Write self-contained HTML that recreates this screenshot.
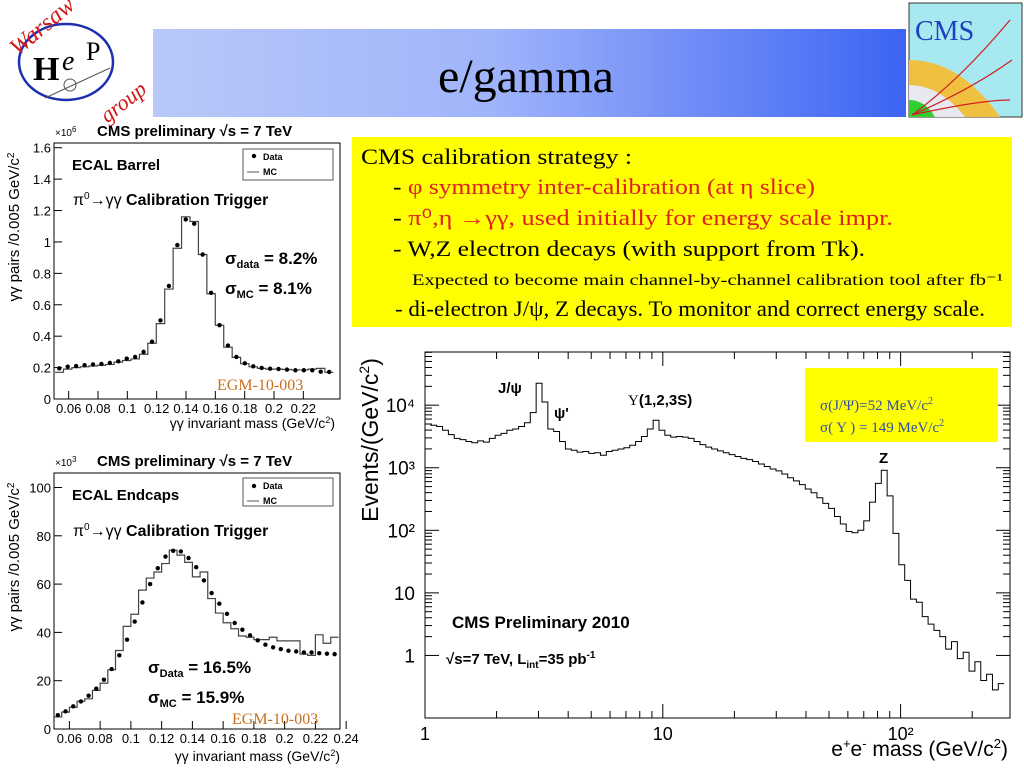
<!DOCTYPE html>
<html><head><meta charset="utf-8"><style>
html,body{margin:0;padding:0;background:#fff;}
svg{display:block;font-family:"Liberation Sans",sans-serif;}
</style></head><body>
<svg id="slide" width="1024" height="768" viewBox="0 0 1024 768">
<defs>
<linearGradient id="tg" x1="0" x2="1" y1="0" y2="0"><stop offset="0" stop-color="#b8c8f8"/><stop offset="0.45" stop-color="#a0b4fa"/><stop offset="1" stop-color="#3c64f4"/></linearGradient>
</defs>
<g>
<ellipse cx="66" cy="62" rx="47" ry="38" fill="none" stroke="#1c2fb0" stroke-width="2.5"/>
<text x="8" y="50" transform="rotate(-40 22 40)" font-family="Liberation Serif, serif" font-size="24" font-style="italic" fill="#d01818">Warsaw</text>
<text x="33" y="80" font-family="Liberation Serif, serif" font-size="34" font-weight="bold" fill="#000">H</text>
<text x="62" y="70" font-family="Liberation Serif, serif" font-size="28" font-style="italic" fill="#000">e</text>
<text x="86" y="60" font-family="Liberation Serif, serif" font-size="26" fill="#000">P</text>
<text x="95" y="112" transform="rotate(-38 118 100)" font-family="Liberation Serif, serif" font-size="22" font-style="italic" fill="#d01818">group</text>
<line x1="45" y1="98" x2="110" y2="68" stroke="#555" stroke-width="1"/>
<circle cx="70" cy="85" r="6" fill="none" stroke="#555"/>
</g>
<rect x="153" y="29" width="753" height="88" fill="url(#tg)"/>
<text x="526" y="92" text-anchor="middle" font-family="Liberation Serif, serif" font-size="48" fill="#000">e/gamma</text>
<g>
<rect x="909" y="3" width="113" height="114" fill="#a8e8f0" stroke="#333"/>
<path d="M909 60 Q960 60 1000 117 L909 117Z" fill="#f0c040"/>
<path d="M909 85 Q940 85 965 117 L909 117Z" fill="#e8e8f0"/>
<path d="M909 100 Q925 100 935 117 L909 117Z" fill="#30d030"/>
<path d="M912 115 Q960 80 1010 20 M912 115 Q970 90 1012 60 M912 115 Q980 100 1010 100" stroke="#d02020" fill="none" stroke-width="1.2"/>
<text x="915" y="40" font-family="Liberation Serif, serif" font-size="28" fill="#2040c0">CMS</text>
</g>

<rect x="352" y="137" width="660" height="190" fill="#ffff00"/>
<g font-family="Liberation Serif, serif">
<text x="361" y="164" font-size="22" fill="#000" textLength="271" lengthAdjust="spacingAndGlyphs">CMS calibration strategy :</text>
<text x="393" y="194" font-size="22" fill="#000" textLength="422" lengthAdjust="spacingAndGlyphs">- <tspan fill="#e02020">φ symmetry inter-calibration (at η slice)</tspan></text>
<text x="393" y="225" font-size="22" fill="#e02020" textLength="500" lengthAdjust="spacingAndGlyphs"><tspan fill="#000">- </tspan>π⁰,η →γγ, used initially for energy scale impr.</text>
<text x="393" y="256" font-size="22" fill="#000" textLength="472" lengthAdjust="spacingAndGlyphs">- W,Z electron decays (with support from Tk).</text>
<text x="412" y="285" font-size="16" fill="#000" textLength="591" lengthAdjust="spacingAndGlyphs">Expected to become main channel-by-channel  calibration tool after fb⁻¹</text>
<text x="395" y="316" font-size="22" fill="#000" textLength="590" lengthAdjust="spacingAndGlyphs">- di-electron  J/ψ, Z decays. To monitor and correct energy scale.</text>
</g>

<g id="c1"></g>
<g id="c2"></g>
<g id="c3"></g>

<g>
<text x="55" y="136" font-size="10">×10<tspan font-size="8" dy="-4">6</tspan></text>
<text x="97" y="136" font-size="15" font-weight="bold">CMS preliminary √s = 7 TeV</text>
<text x="72" y="170" font-size="15" font-weight="bold">ECAL Barrel</text>
<rect x="243" y="149" width="90" height="31" fill="#fff" stroke="#555"/>
<circle cx="254" cy="156" r="2.2"/><text x="263" y="160" font-size="9" font-weight="bold">Data</text>
<line x1="247" y1="172" x2="259" y2="172" stroke="#555"/><text x="263" y="175" font-size="9" font-weight="bold">MC</text>
<text x="73" y="205" font-size="16" font-weight="bold"><tspan font-weight="normal">π<tspan font-size="10" dy="-6">0</tspan><tspan dy="6">→γγ</tspan></tspan> Calibration Trigger</text>
<text x="225" y="264" font-size="17" font-weight="bold">σ<tspan font-size="11" dy="4">data</tspan><tspan dy="-4"> = 8.2%</tspan></text>
<text x="225" y="294" font-size="17" font-weight="bold">σ<tspan font-size="11" dy="4">MC</tspan><tspan dy="-4"> = 8.1%</tspan></text>
<text x="217" y="390" font-size="16" fill="#c8701e" font-family="Liberation Serif, serif">EGM-10-003</text>
<text x="335" y="428" font-size="14" text-anchor="end">γγ invariant mass (GeV/c<tspan font-size="9" dy="-5">2</tspan><tspan dy="5">)</tspan></text>
<text transform="translate(19 227) rotate(-90)" font-size="15" text-anchor="middle">γγ pairs /0.005 GeV/c<tspan font-size="10" dy="-5">2</tspan></text>
</g>
<g>
<text x="55" y="466" font-size="10">×10<tspan font-size="8" dy="-4">3</tspan></text>
<text x="97" y="466" font-size="15" font-weight="bold">CMS preliminary √s = 7 TeV</text>
<text x="72" y="500" font-size="15" font-weight="bold">ECAL Endcaps</text>
<rect x="243" y="478" width="90" height="28" fill="#fff" stroke="#555"/>
<circle cx="254" cy="486" r="2.2"/><text x="263" y="489" font-size="9" font-weight="bold">Data</text>
<line x1="247" y1="501" x2="259" y2="501" stroke="#555"/><text x="263" y="504" font-size="9" font-weight="bold">MC</text>
<text x="73" y="536" font-size="16" font-weight="bold"><tspan font-weight="normal">π<tspan font-size="10" dy="-6">0</tspan><tspan dy="6">→γγ</tspan></tspan> Calibration Trigger</text>
<text x="148" y="673" font-size="17" font-weight="bold">σ<tspan font-size="11" dy="4">Data</tspan><tspan dy="-4"> = 16.5%</tspan></text>
<text x="148" y="703" font-size="17" font-weight="bold">σ<tspan font-size="11" dy="4">MC</tspan><tspan dy="-4"> = 15.9%</tspan></text>
<text x="232" y="724" font-size="16" fill="#c8701e" font-family="Liberation Serif, serif">EGM-10-003</text>
<text x="340" y="761" font-size="14" text-anchor="end">γγ invariant mass (GeV/c<tspan font-size="9" dy="-5">2</tspan><tspan dy="5">)</tspan></text>
<text transform="translate(19 557) rotate(-90)" font-size="15" text-anchor="middle">γγ pairs /0.005 GeV/c<tspan font-size="10" dy="-5">2</tspan></text>
</g>
<g>
<text transform="translate(378 440) rotate(-90)" font-size="23" text-anchor="middle">Events/(GeV/c<tspan font-size="14" dy="-9">2</tspan><tspan dy="9">)</tspan></text>
<text x="1008" y="756" font-size="21" text-anchor="end">e<tspan font-size="13" dy="-8">+</tspan><tspan dy="8">e</tspan><tspan font-size="13" dy="-8">-</tspan><tspan dy="8"> mass (GeV/c</tspan><tspan font-size="13" dy="-8">2</tspan><tspan dy="8">)</tspan></text>
<text x="498" y="393" font-size="15" font-weight="bold">J/ψ</text>
<text x="554" y="418" font-size="15" font-weight="bold">ψ'</text>
<text x="628" y="405" font-size="15" font-weight="bold"><tspan font-weight="normal" font-family="Liberation Serif, serif">Υ</tspan>(1,2,3S)</text>
<text x="879" y="463" font-size="15" font-weight="bold">Z</text>
<text x="452" y="628" font-size="17" font-weight="bold">CMS Preliminary 2010</text>
<text x="446" y="664" font-size="15" font-weight="bold">√s=7 TeV, L<tspan font-size="10" dy="4">int</tspan><tspan dy="-4">=35 pb</tspan><tspan font-size="10" dy="-6">-1</tspan></text>
<rect x="805" y="368" width="193" height="74" fill="#ffff00"/>
<text x="820" y="410" font-size="15" fill="#3050a0" font-family="Liberation Serif, serif">σ(J/Ψ)=52 MeV/c<tspan font-size="10" dy="-6">2</tspan></text>
<text x="820" y="432" font-size="15" fill="#3050a0" font-family="Liberation Serif, serif">σ( Υ ) = 149 MeV/c<tspan font-size="10" dy="-6">2</tspan></text>
</g>
</svg>
<script>
// ---- Chart 1: ECAL Barrel (x10^6)
const barrelBinStart = 0.0536, barrelBinWidth = 0.00575;
const barrelData = [0.195,0.206,0.21,0.215,0.22,0.223,0.23,0.24,0.257,0.268,0.30,0.365,0.50,0.72,0.98,1.143,1.116,0.92,0.676,0.47,0.34,0.268,0.227,0.208,0.198,0.193,0.191,0.187,0.183,0.183,0.183,0.174,0.172];
const barrelMC   = [0.17,0.19,0.20,0.205,0.21,0.215,0.22,0.235,0.245,0.255,0.285,0.355,0.48,0.70,0.96,1.16,1.13,0.92,0.67,0.47,0.33,0.265,0.225,0.205,0.195,0.19,0.19,0.188,0.185,0.185,0.19,0.195,0.17];
const barrelYTicks = [0,0.2,0.4,0.6,0.8,1,1.2,1.4,1.6];
const barrelXTicks = [0.06,0.08,0.1,0.12,0.14,0.16,0.18,0.2,0.22];
// ---- Chart 2: ECAL Endcaps (x10^3)
const endcapBinStart = 0.0525, endcapBinWidth = 0.005;
const endcapData = [5.7,7.3,9.4,11.4,13.8,16.7,20.4,24.8,30.5,37,44.5,52.4,60,66.6,71.4,73.8,73.5,70.8,67,61.5,56.3,51.9,47.7,43.9,41.1,38.8,36.7,34.9,33.8,33.1,32.4,32.1,31.7,31.7,31.4,31.2,31];
const endcapMC   = [5,7,9,11.5,12.5,16,19,24.5,32.5,42.5,47.5,57.5,62.5,65,68.5,74,72,69,63,65,54,48,44,41.5,38.5,38,37,37,38,36.5,36.5,36.5,31,30.5,39,35.5,38];
const endcapYTicks = [0,20,40,60,80,100];
const endcapXTicks = [0.06,0.08,0.1,0.12,0.14,0.16,0.18,0.2,0.22,0.24];
// ---- Chart 3: e+e- mass spectrum (log10 of events per bin, log10 mass bins)
const massLogStart = 0, massLogStep = 0.0246;
const eventsLog10 = [3.70,3.68,3.66,3.60,3.53,3.47,3.45,3.42,3.40,3.43,3.41,3.47,3.52,3.55,3.60,3.62,3.66,3.72,3.88,4.35,4.05,3.62,3.58,3.42,3.30,3.28,3.25,3.26,3.23,3.24,3.20,3.26,3.28,3.30,3.32,3.36,3.42,3.50,3.62,3.76,3.60,3.52,3.49,3.50,3.49,3.47,3.42,3.37,3.33,3.30,3.27,3.24,3.21,3.18,3.15,3.13,3.10,3.06,3.02,2.98,2.95,2.90,2.84,2.79,2.73,2.66,2.60,2.52,2.43,2.35,2.22,2.10,1.98,1.96,2.00,2.15,2.45,2.75,2.96,2.55,1.95,1.45,1.20,0.90,0.85,0.62,0.50,0.40,0.30,0.10,0.22,-0.05,0.05,-0.25,-0.10,-0.40,-0.30,-0.55,-0.45];
const massYTicks = [0,1,2,3,4];
const massYLabels = ["1","10","10²","10³","10⁴"];
const massXTicks = [1,10,100];
const massXLabels = ["1","10","10²"];

const NS = "http://www.w3.org/2000/svg";
function mk(parent, tag, attrs, text){
  const e = document.createElementNS(NS, tag);
  for (const k in attrs) e.setAttribute(k, attrs[k]);
  if (text !== undefined) e.textContent = text;
  parent.appendChild(e); return e;
}

function smallChart(g, o){
  const L=54,R=340,T=o.top,B=o.bottom;
  const sx = v => L + (v - o.xmin)/(o.xmax - o.xmin)*(R-L);
  const sy = v => B - (v - 0)/(o.ymax)*(B-T);
  const frame = mk(g,'rect',{x:L,y:T,width:R-L,height:B-T,fill:'none',stroke:'#000','stroke-width':1});
  
  
  o.yTicks.forEach(t=>{
    const y=sy(t);
    const tk=mk(g,'line',{x1:L,x2:L+8,y1:y,y2:y,stroke:'#000'});
    
    
    const lb=mk(g,'text',{x:L-3,y:y+5,'text-anchor':'end','font-size':13,fill:'#000'},String(t));
    
    
  });
  o.xTicks.forEach(t=>{
    const x=sx(t);
    const tk=mk(g,'line',{x1:x,x2:x,y1:B,y2:B-8,stroke:'#000'});
    
    
    const lb=mk(g,'text',{x:x,y:B+14,'text-anchor':'middle','font-size':13,fill:'#000'},String(t));
    
    
  });
  let d='';
  o.mc.forEach((v,i)=>{
    const x0=sx(o.start+(i-0.5)*o.width), x1=sx(o.start+(i+0.5)*o.width), y=sy(v);
    d += (i===0?'M'+Math.max(L,x0)+' '+y:'L'+x0+' '+y)+' L'+Math.min(R,x1)+' '+y+' ';
  });
  const mc=mk(g,'path',{d:d,fill:'none',stroke:'#444','stroke-width':1.2});
  
  
  o.data.forEach((v,i)=>{
    const c=mk(g,'circle',{cx:sx(o.start+i*o.width),cy:sy(v),r:2.2,fill:'#000'});
    
    
  });
}

const g1=document.getElementById('c1');
smallChart(g1,{top:143,bottom:399,xmin:0.05,xmax:0.245,ymax:1.63,yTicks:barrelYTicks,xTicks:barrelXTicks,mc:barrelMC,data:barrelData,start:barrelBinStart,width:barrelBinWidth});
const g2=document.getElementById('c2');
smallChart(g2,{top:473,bottom:729,xmin:0.05,xmax:0.236,ymax:106,yTicks:endcapYTicks,xTicks:endcapXTicks,mc:endcapMC,data:endcapData,start:endcapBinStart,width:endcapBinWidth});

const g3=document.getElementById('c3');
const L3=425,R3=1010,T3=352,B3=718;
const lxmin=0, lxmax=2.46, lymin=-1, lymax=4.85;
const sx3 = lx => L3 + (lx-lxmin)/(lxmax-lxmin)*(R3-L3);
const sy3 = ly => B3 - (ly-lymin)/(lymax-lymin)*(B3-T3);
const fr=mk(g3,'rect',{x:L3,y:T3,width:R3-L3,height:B3-T3,fill:'none',stroke:'#000','stroke-width':1});


massYTicks.forEach((t,i)=>{
  const y=sy3(t);
  const tk=mk(g3,'line',{x1:L3,x2:L3+14,y1:y,y2:y,stroke:'#000'});
  
  
  const tk2=mk(g3,'line',{x1:R3,x2:R3-14,y1:y,y2:y,stroke:'#000'});
  
  
  const lb=mk(g3,'text',{x:L3-10,y:y+7,'text-anchor':'end','font-size':19,fill:'#000'},massYLabels[i]);
  
  
  for(let m=2;m<10;m++){
    const ym=sy3(t+Math.log10(m));
    if(ym<T3) continue;
    const mt=mk(g3,'line',{x1:L3,x2:L3+7,y1:ym,y2:ym,stroke:'#000'});
    
    
    const mt2=mk(g3,'line',{x1:R3,x2:R3-7,y1:ym,y2:ym,stroke:'#000'});
    
    
  }
});
massXTicks.forEach((t,i)=>{
  const x=sx3(Math.log10(t));
  const tk=mk(g3,'line',{x1:x,x2:x,y1:B3,y2:B3-14,stroke:'#000'});
  
  
  const tkt=mk(g3,'line',{x1:x,x2:x,y1:T3,y2:T3+14,stroke:'#000'});
  
  
  const lb=mk(g3,'text',{x:x,y:B3+22,'text-anchor':'middle','font-size':18,fill:'#000'},massXLabels[i]);
  
  
  for(let m=2;m<10;m++){
    const xm=sx3(Math.log10(t*m));
    if(xm>R3) continue;
    const mt=mk(g3,'line',{x1:xm,x2:xm,y1:B3,y2:B3-7,stroke:'#000'});
    
    
    const mtt=mk(g3,'line',{x1:xm,x2:xm,y1:T3,y2:T3+7,stroke:'#000'});
    
    
  }
});
let d3='';
eventsLog10.forEach((v,i)=>{
  const x0=sx3(massLogStart+i*massLogStep), x1=sx3(massLogStart+(i+1)*massLogStep);
  const y=Math.min(B3,sy3(v));
  d3 += (i===0?'M':'L')+x0+' '+y+' L'+Math.min(R3,x1)+' '+y+' ';
});
const hp=mk(g3,'path',{d:d3,fill:'none',stroke:'#000','stroke-width':1});


</script>
</body></html>
